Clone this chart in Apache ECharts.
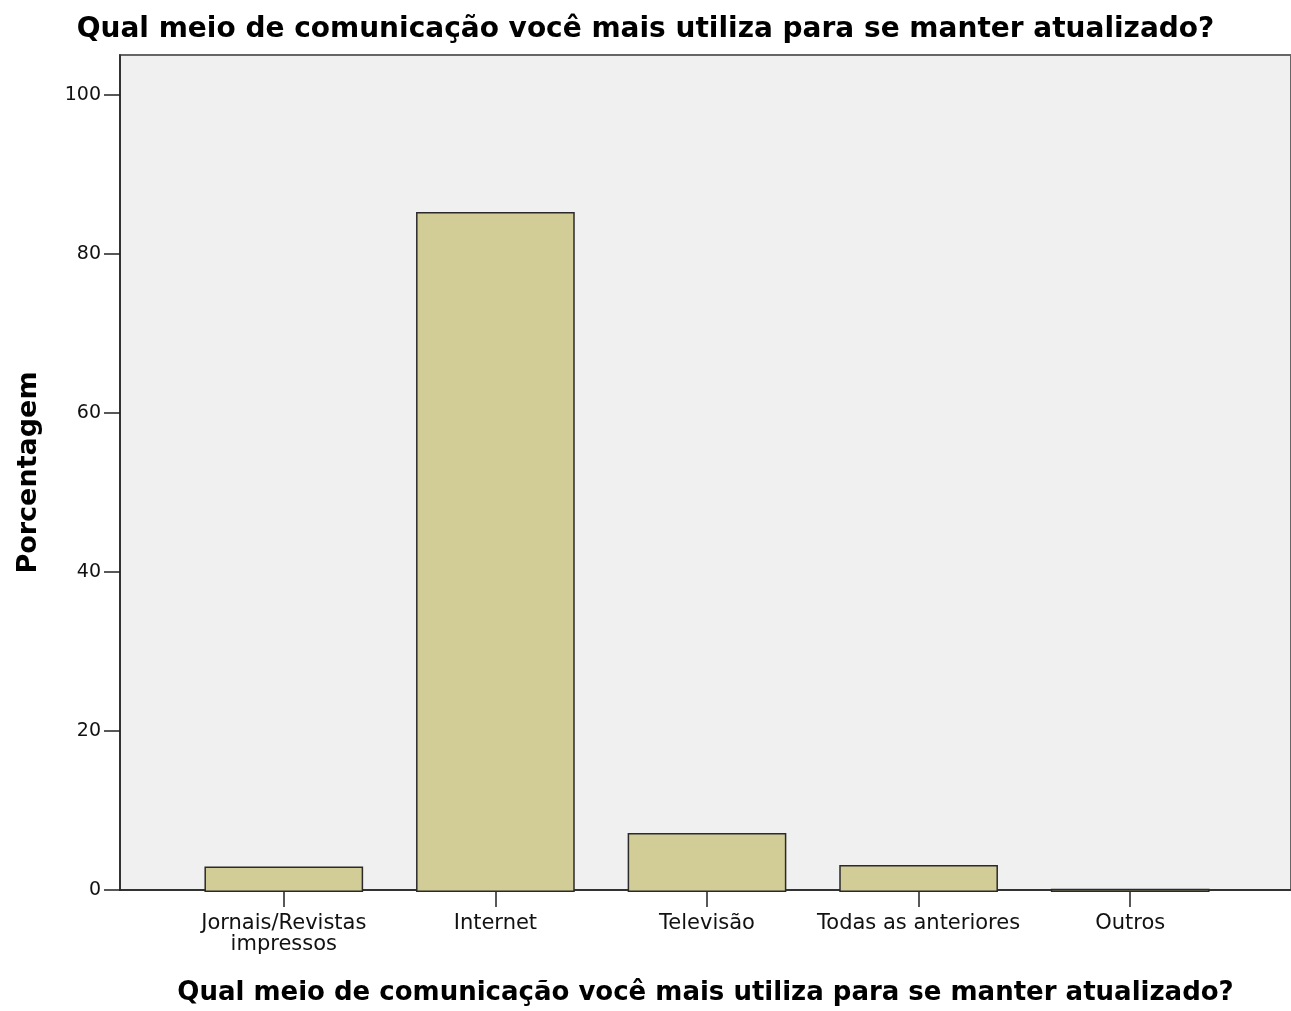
<!DOCTYPE html>
<html>
<head>
<meta charset="utf-8">
<script src="https://cdn.jsdelivr.net/npm/echarts@6/dist/echarts.min.js"></script>
<style>
  html, body { margin: 0; padding: 0; background: #fff; }
  #chart { width: 1291px; height: 1011px; }
</style>
</head>
<body>
<div id="chart"></div>
<script>
const title = 'Qual meio de comunicação você mais utiliza para se manter atualizado?';
const categories = ['Jornais/Revistas\nimpressos', 'Internet', 'Televisão', 'Todas as anteriores', 'Outros'];
const percentages = [3.2, 85.3, 7.4, 3.4, 0.4];
const yTicks = [0, 20, 40, 60, 80, 100];

const font = '"DejaVu Sans", Verdana, sans-serif';

const chart = echarts.init(document.getElementById('chart'));
chart.setOption({
  backgroundColor: '#ffffff',
  animation: false,
  title: {
    text: title,
    left: 'center',
    top: 11,
    textStyle: { fontFamily: font, fontSize: 28, fontWeight: 'bold', color: '#000' },
  },
  grid: [
    // frame + value axis
    {
      left: 120, right: -2, top: 55, bottom: 119,
      show: true,
      backgroundColor: '#f0f0f0',
      borderColor: '#666',
      borderWidth: 2,
    },
    // bars
    { left: 178, right: 55, top: 55, bottom: 119 },
  ],
  xAxis: [
    {
      gridIndex: 0,
      type: 'value',
      min: 0,
      max: 1,
      name: title,
      nameLocation: 'middle',
      nameGap: 90,
      nameTextStyle: { fontFamily: font, fontSize: 26, fontWeight: 'bold', color: '#000' },
      axisLine: { show: true, lineStyle: { color: '#222', width: 1.5 } },
      axisTick: { show: false },
      axisLabel: { show: false },
      splitLine: { show: false },
    },
    {
      gridIndex: 1,
      type: 'category',
      data: categories,
      axisLine: { show: false },
      axisTick: { show: true, alignWithLabel: true, length: 15, lineStyle: { color: '#222', width: 1.5 } },
      axisLabel: {
        fontFamily: font, fontSize: 21, color: '#111', margin: 21, lineHeight: 21, interval: 0,
      },
    },
  ],
  yAxis: [
    {
      gridIndex: 0,
      type: 'value',
      min: 0,
      max: 105,
      name: 'Porcentagem',
      nameLocation: 'middle',
      nameGap: 78,
      nameTextStyle: { fontFamily: font, fontSize: 27, fontWeight: 'bold', color: '#000' },
      axisLine: { show: true, lineStyle: { color: '#222', width: 1.5 } },
      axisTick: { show: true, length: 16, customValues: yTicks, lineStyle: { color: '#222', width: 1.5 } },
      axisLabel: { customValues: yTicks, fontFamily: font, fontSize: 19, color: '#111', margin: 19 },
      splitLine: { show: false },
    },
    {
      gridIndex: 1,
      type: 'value',
      min: 0,
      max: 105,
      show: false,
      splitLine: { show: false },
    },
  ],
  series: [
    {
      type: 'bar',
      xAxisIndex: 1,
      yAxisIndex: 1,
      data: percentages,
      barWidth: '75%',
      itemStyle: { color: '#d2cd96', borderColor: '#2a2a2a', borderWidth: 1.5 },
    },
  ],
});
</script>
</body>
</html>
